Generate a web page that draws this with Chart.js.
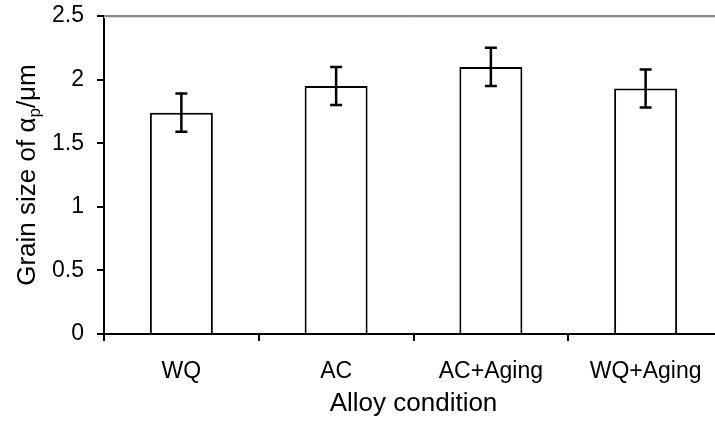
<!DOCTYPE html>
<html>
<head>
<meta charset="utf-8">
<script src="https://cdn.jsdelivr.net/npm/chart.js@4/dist/chart.umd.min.js"></script>
<style>
  html, body { margin: 0; padding: 0; background: #fff; overflow: hidden; width: 715px; height: 428px; }
  canvas { display: block; }
</style>
</head>
<body>
<canvas id="grainChart" width="723" height="428"></canvas>
<script>
// data
const categories = ['WQ', 'AC', 'AC+Aging', 'WQ+Aging'];
const grainSize = [1.74, 1.95, 2.1, 1.93];
const grainErr = [0.15, 0.15, 0.15, 0.15];
const yTicks = [0, 0.5, 1, 1.5, 2, 2.5];

const FONT = "'Liberation Sans', Arial, sans-serif";
const FS = 23;       // tick labels
const TITLE_FS = 26; // axis titles

// error bars drawn on top of the bars
const errorBars = {
    id: 'errorBars',
    afterDatasetsDraw(chart) {
        const ctx = chart.ctx;
        const y = chart.scales.y;
        const meta = chart.getDatasetMeta(0);
        ctx.save();
        ctx.strokeStyle = '#000';
        ctx.lineWidth = 2.5;
        meta.data.forEach((bar, i) => {
            const top = y.getPixelForValue(grainSize[i] + grainErr[i]);
            const bot = y.getPixelForValue(grainSize[i] - grainErr[i]);
            ctx.beginPath();
            ctx.moveTo(bar.x, top);
            ctx.lineTo(bar.x, bot);
            ctx.moveTo(bar.x - 6, top);
            ctx.lineTo(bar.x + 6, top);
            ctx.moveTo(bar.x - 6, bot);
            ctx.lineTo(bar.x + 6, bot);
            ctx.stroke();
        });
        ctx.restore();
    }
};

// y title with subscript p
const yTitle = {
    id: 'yTitle',
    afterDraw(chart) {
        const ctx = chart.ctx;
        const area = chart.chartArea;
        const parts = [
            { t: 'Grain size of \u03b1', size: TITLE_FS, dy: 0 },
            { t: 'p', size: 17, dy: 7 },
            { t: '/\u03bcm', size: TITLE_FS, dy: 0 }
        ];
        ctx.save();
        let total = 0;
        parts.forEach(p => { ctx.font = p.size + 'px ' + FONT; p.w = ctx.measureText(p.t).width; total += p.w; });
        ctx.translate(28, (area.top + area.bottom) / 2);
        ctx.rotate(-Math.PI / 2);
        ctx.fillStyle = '#000';
        ctx.textBaseline = 'middle';
        let x = -total / 2;
        parts.forEach(p => {
            ctx.font = p.size + 'px ' + FONT;
            ctx.fillText(p.t, x, p.dy);
            x += p.w;
        });
        ctx.restore();
    }
};

// light gray frame line along the top of the plot
const topLine = {
    id: 'topLine',
    beforeDatasetsDraw(chart) {
        const ctx = chart.ctx;
        const a = chart.chartArea;
        ctx.save();
        ctx.strokeStyle = '#8a8a8a';
        ctx.lineWidth = 2;
        ctx.beginPath();
        ctx.moveTo(a.left, a.top);
        ctx.lineTo(a.right, a.top);
        ctx.stroke();
        ctx.strokeStyle = '#dcdcdc';
        ctx.lineWidth = 1;
        ctx.beginPath();
        ctx.moveTo(a.left, a.top + 1.5);
        ctx.lineTo(a.right, a.top + 1.5);
        ctx.stroke();
        ctx.restore();
    }
};

new Chart(document.getElementById('grainChart'), {
    type: 'bar',
    data: {
        labels: categories,
        datasets: [{
            data: grainSize,
            backgroundColor: '#fff',
            borderColor: '#000',
            borderWidth: 2,
            barPercentage: 0.407,
            categoryPercentage: 1
        }]
    },
    options: {
        responsive: false,
        animation: false,
        layout: { padding: { top: 16, left: 0, right: 0, bottom: 0 } },
        plugins: { legend: { display: false }, tooltip: { enabled: false } },
        scales: {
            x: {
                afterFit(scale) { scale.height = 94; },
                border: { color: '#000', width: 2 },
                grid: {
                    offset: true,
                    drawOnChartArea: false,
                    drawTicks: true,
                    tickLength: 7,
                    tickColor: '#000',
                    lineWidth: 2
                },
                ticks: { color: '#000', font: { family: FONT, size: FS }, padding: 17, maxRotation: 0 },
                title: {
                    display: true,
                    text: 'Alloy condition',
                    color: '#000',
                    font: { family: FONT, size: TITLE_FS },
                    padding: { top: 0, bottom: 9 }
                }
            },
            y: {
                min: 0,
                max: 2.5,
                afterFit(scale) {
                    scale.width = 104;
                    scale.paddingTop = 0;
                    scale.paddingBottom = 0;
                },
                afterBuildTicks(scale) { scale.ticks = yTicks.map(v => ({ value: v })); },
                border: { color: '#000', width: 2 },
                grid: {
                    drawOnChartArea: false,
                    tickColor: '#000',
                    lineWidth: 2,
                    tickLength: 7
                },
                ticks: {
                    color: '#000',
                    font: { family: FONT, size: FS },
                    padding: 13,
                    callback: v => String(v)
                }
            }
        }
    },
    plugins: [topLine, errorBars, yTitle]
});
</script>
</body>
</html>
